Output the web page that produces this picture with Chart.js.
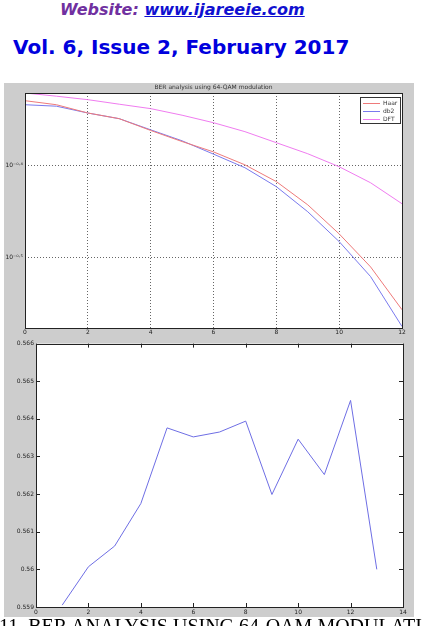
<!DOCTYPE html>
<html>
<head>
<meta charset="utf-8">
<script src="https://cdn.jsdelivr.net/npm/chart.js@4/dist/chart.umd.min.js"></script>
<style>
  html, body { margin:0; padding:0; background:#fff; width:422px; height:626px; overflow:hidden; }
  .abs { position:absolute; }
  #web { left:60px; top:0px; font:italic bold 16px "DejaVu Sans"; color:#7030a0; white-space:nowrap; }
  #web a { color:#1010d0; text-decoration:underline; }
  #vol { left:13px; top:35px; font:bold 20px "DejaVu Sans"; color:#0000dd; white-space:nowrap; }
  #cap { left:-1px; top:615px; font:20px "Liberation Serif"; color:#000; white-space:nowrap; }
  canvas { position:absolute; background:#cdcdcd; }
</style>
</head>
<body>
<div id="web" class="abs">Website: <a>www.ijareeie.com</a></div>
<div id="vol" class="abs">Vol. 6, Issue 2, February 2017</div>
<canvas id="c1" width="410" height="255" style="left:4px;top:83px"></canvas>
<canvas id="c2" width="410" height="279" style="left:4px;top:338px"></canvas>
<div id="cap" class="abs">11. BER ANALYSIS USING 64-QAM MODULATION</div>
<script>
// ---- Top chart data ----
const snr = [0,1,2,3,4,5,6,7,8,9,10,11,12];
const haar = [0.4684,0.4637,0.4542,0.4478,0.4348,0.4229,0.4121,0.3990,0.3826,0.3610,0.3357,0.3091,0.2777];
const db2  = [0.4637,0.4620,0.4542,0.4478,0.4355,0.4237,0.4098,0.3961,0.3778,0.3548,0.3293,0.3017,0.2663];
const dft  = [0.4775,0.4737,0.4696,0.4643,0.4592,0.4517,0.4433,0.4335,0.4217,0.4102,0.3971,0.3815,0.3620];
const seriesNames = ['Haar','db2','DFT'];
const topTitle = 'BER analysis using 64-QAM modulation';
const topYTicks = [Math.pow(10,-0.5), Math.pow(10,-0.4)];
const topYLabels = ['10\u207B\u2070\u00B7\u2075','10\u207B\u2070\u00B7\u2074'];

// ---- Bottom chart data ----
const xs2 = [1,2,3,4,5,6,7,8,9,10,11,12,13];
const ys2 = [0.55905,0.56007,0.56062,0.56175,0.56376,0.56352,0.56365,0.56394,0.56199,0.56346,0.56252,0.56449,0.56000];

const pts = (xa, ya) => xa.map((x,i)=>({x:x, y:ya[i]}));

const whiteArea = {
  id:'whiteArea',
  beforeDraw(chart){
    const {ctx, chartArea:a} = chart;
    ctx.save(); ctx.fillStyle='#fff'; ctx.fillRect(a.left,a.top,a.right-a.left,a.bottom-a.top); ctx.restore();
  },
  afterDraw(chart){
    const {ctx, chartArea:a} = chart;
    ctx.save(); ctx.strokeStyle='#222'; ctx.lineWidth=1;
    ctx.strokeRect(Math.round(a.left)+0.5, Math.round(a.top)+0.5, Math.round(a.right-a.left), Math.round(a.bottom-a.top));
    ctx.restore();
  }
};

const topDecor = {
  id:'topDecor',
  afterDraw(chart){
    const {ctx, chartArea:a} = chart;
    ctx.save();
    ctx.font = '6px "DejaVu Sans"'; ctx.fillStyle='#333'; ctx.textAlign='center'; ctx.textBaseline='middle';
    ctx.fillText(topTitle, (a.left+a.right)/2, 4);
    // legend
    const bx = 356, by = 14, bw = 40, bh = 26;
    ctx.fillStyle='#fff'; ctx.fillRect(bx,by,bw,bh);
    ctx.strokeStyle='#333'; ctx.strokeRect(bx+0.5,by+0.5,bw,bh);
    ctx.textAlign='left';
    chart.data.datasets.forEach((ds,i)=>{
      const yy = by + 6 + i*8 + 0.5;
      ctx.strokeStyle = ds.borderColor; ctx.lineWidth=1;
      ctx.beginPath(); ctx.moveTo(bx+3, yy); ctx.lineTo(bx+20, yy); ctx.stroke();
      ctx.fillStyle='#333'; ctx.fillText(ds.label, bx+23, yy);
    });
    ctx.restore();
  }
};

new Chart(document.getElementById('c1'), {
  type:'line',
  data:{ datasets:[
    {label:seriesNames[0], data:pts(snr,haar), borderColor:'#ee7a7a', borderWidth:1, pointRadius:0, tension:0},
    {label:seriesNames[1], data:pts(snr,db2), borderColor:'#7a7aee', borderWidth:1, pointRadius:0, tension:0},
    {label:seriesNames[2], data:pts(snr,dft), borderColor:'#f07cf0', borderWidth:1, pointRadius:0, tension:0}
  ]},
  options:{
    responsive:false, animation:false, devicePixelRatio:1,
    layout:{padding:{top:10,right:12,left:0,bottom:0}},
    plugins:{legend:{display:false}, tooltip:{enabled:false}},
    scales:{
      x:{type:'linear', min:0, max:12,
         ticks:{stepSize:2, font:{size:6, family:'DejaVu Sans'}, color:'#222', padding:1, maxRotation:0},
         grid:{color:'#666', lineWidth:1, drawTicks:false},
         border:{display:false, dash:[1,2]},
         afterFit(s){ s.height = 10; }},
      y:{type:'logarithmic', min:0.2653, max:0.4775,
         afterBuildTicks(s){ s.ticks = topYTicks.map(v=>({value:v})); },
         ticks:{font:{size:6, family:'DejaVu Sans'}, color:'#222', padding:2,
                callback:(v)=>{ const i = topYTicks.findIndex(t=>Math.abs(t-v)<1e-6); return i>=0 ? topYLabels[i] : ''; }},
         grid:{color:'#666', lineWidth:1, drawTicks:false},
         border:{display:false, dash:[1,2]},
         afterFit(s){ s.width = 21; }}
    }
  },
  plugins:[whiteArea, topDecor]
});

const insideTicks = {
  id:'insideTicks',
  afterDraw(chart){
    const {ctx, chartArea:a, scales} = chart;
    ctx.save(); ctx.strokeStyle='#222'; ctx.lineWidth=1;
    const L = 4;
    scales.x.ticks.forEach(t=>{
      const px = Math.round(scales.x.getPixelForValue(t.value))+0.5;
      ctx.beginPath(); ctx.moveTo(px,a.bottom); ctx.lineTo(px,a.bottom-L); ctx.stroke();
      ctx.beginPath(); ctx.moveTo(px,a.top); ctx.lineTo(px,a.top+L); ctx.stroke();
    });
    scales.y.ticks.forEach(t=>{
      const py = Math.round(scales.y.getPixelForValue(t.value))+0.5;
      ctx.beginPath(); ctx.moveTo(a.left,py); ctx.lineTo(a.left+L,py); ctx.stroke();
      ctx.beginPath(); ctx.moveTo(a.right,py); ctx.lineTo(a.right-L,py); ctx.stroke();
    });
    ctx.restore();
  }
};

new Chart(document.getElementById('c2'), {
  type:'line',
  data:{ datasets:[
    {label:'BER', data:pts(xs2,ys2), borderColor:'#6e6ee4', borderWidth:1, pointRadius:0, tension:0}
  ]},
  options:{
    responsive:false, animation:false, devicePixelRatio:1,
    layout:{padding:{top:5,right:11,left:0,bottom:0}},
    plugins:{legend:{display:false}, tooltip:{enabled:false}},
    scales:{
      x:{type:'linear', min:0, max:14,
         ticks:{stepSize:2, font:{size:6, family:'DejaVu Sans'}, color:'#222', padding:2, maxRotation:0},
         grid:{display:false, drawTicks:false}, border:{display:false},
         afterFit(s){ s.height = 10; }},
      y:{type:'linear', min:0.559, max:0.566,
         ticks:{stepSize:0.001, font:{size:6, family:'DejaVu Sans'}, color:'#222', padding:2,
                callback:(v)=>String(+(+v).toFixed(3))},
         grid:{display:false, drawTicks:false}, border:{display:false},
         afterFit(s){ s.width = 32; }}
    }
  },
  plugins:[whiteArea, insideTicks]
});
</script>
</body>
</html>
